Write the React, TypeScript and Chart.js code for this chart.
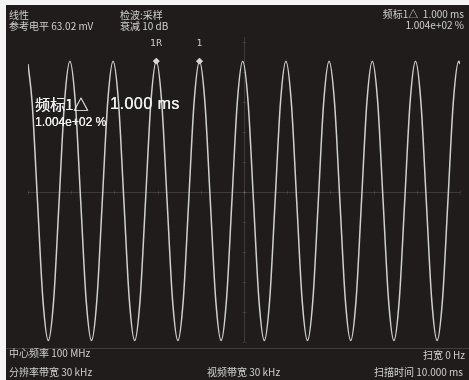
import React, { useEffect, useRef } from "react";
import { Chart, registerables } from "chart.js";

Chart.register(...registerables);

const TIME_MS = [
  0,
  0.095, 0.22, 0.345, 0.47, 0.595, 0.72, 0.845, 0.97,
  1.095, 1.22, 1.345, 1.47, 1.595, 1.72, 1.845, 1.97,
  2.095, 2.22, 2.345, 2.47, 2.595, 2.72, 2.845, 2.97,
  3.095, 3.22, 3.345, 3.47, 3.595, 3.72, 3.845, 3.97,
  4.095, 4.22, 4.345, 4.47, 4.595, 4.72, 4.845, 4.97,
  5.095, 5.22, 5.345, 5.47, 5.595, 5.72, 5.845, 5.97,
  6.095, 6.22, 6.345, 6.47, 6.595, 6.72, 6.845, 6.97,
  7.095, 7.22, 7.345, 7.47, 7.595, 7.72, 7.845, 7.97,
  8.095, 8.22, 8.345, 8.47, 8.595, 8.72, 8.845, 8.97,
  9.095, 9.22, 9.345, 9.47, 9.595, 9.72, 9.845, 9.97,
  10.0,
];
const LEVEL_MV = [
  58.4,
  50.4, 29.6, 8.9, 0.3, 8.9, 29.6, 50.4, 59.0,
  50.4, 29.6, 8.9, 0.3, 8.9, 29.6, 50.4, 59.0,
  50.4, 29.6, 8.9, 0.3, 8.9, 29.6, 50.4, 59.0,
  50.4, 29.6, 8.9, 0.3, 8.9, 29.6, 50.4, 59.0,
  50.4, 29.6, 8.9, 0.3, 8.9, 29.6, 50.4, 59.0,
  50.4, 29.6, 8.9, 0.3, 8.9, 29.6, 50.4, 59.0,
  50.4, 29.6, 8.9, 0.3, 8.9, 29.6, 50.4, 59.0,
  50.4, 29.6, 8.9, 0.3, 8.9, 29.6, 50.4, 59.0,
  50.4, 29.6, 8.9, 0.3, 8.9, 29.6, 50.4, 59.0,
  50.4, 29.6, 8.9, 0.3, 8.9, 29.6, 50.4, 59.0,
  58.4,
];
// Markers: reference 1R and marker 1
const MARKER_LABELS = ["1R", "1"];
const MARKER_TIME_MS = [2.97, 3.97];
const MARKER_LEVEL_MV = [59.0, 59.0];

const SWEEP_MS = 10;
const REF_LEVEL_MV = 63.02;

const TEXT = "#cfcfcf";
const CJK = '"Noto Sans CJK SC", "Noto Sans", sans-serif';

const graticule = {
  id: "graticule",
  beforeDatasetsDraw(chart: any) {
    const { ctx, chartArea, scales } = chart;
    const x = scales.x;
    const y = scales.y;
    ctx.save();
    ctx.strokeStyle = "rgba(200,200,200,0.18)";
    ctx.lineWidth = 1;
    const cx = Math.round(x.getPixelForValue(SWEEP_MS / 2)) + 0.5;
    ctx.beginPath();
    ctx.moveTo(cx, chartArea.top - 5);
    ctx.lineTo(cx, chartArea.bottom);
    const cy = Math.round(y.getPixelForValue(REF_LEVEL_MV / 2)) + 0.5;
    ctx.moveTo(chartArea.left, cy);
    ctx.lineTo(chartArea.right, cy);
    ctx.stroke();
    // faint small ticks on center lines
    ctx.strokeStyle = "rgba(200,200,200,0.14)";
    ctx.beginPath();
    for (let i = 0; i <= 10; i++) {
      const px = Math.round(x.getPixelForValue((SWEEP_MS * i) / 10)) + 0.5;
      ctx.moveTo(px, cy - 2);
      ctx.lineTo(px, cy + 2);
    }
    for (let i = 0; i <= 10; i++) {
      const py = Math.round(y.getPixelForValue((REF_LEVEL_MV * i) / 10)) + 0.5;
      ctx.moveTo(cx - 2, py);
      ctx.lineTo(cx + 2, py);
    }
    ctx.stroke();
    // lower separator line
    ctx.strokeStyle = "rgba(200,200,200,0.2)";
    ctx.beginPath();
    ctx.moveTo(0, chartArea.bottom + 6.5);
    ctx.lineTo(chart.width, chartArea.bottom + 6.5);
    ctx.stroke();
    ctx.restore();
  },
  afterDatasetsDraw(chart: any) {
    const { ctx, scales } = chart;
    ctx.save();
    ctx.fillStyle = TEXT;
    ctx.font = '9px "DejaVu Sans", sans-serif';
    ctx.textAlign = "center";
    ctx.textBaseline = "middle";
    MARKER_LABELS.forEach((lab, i) => {
      const px = scales.x.getPixelForValue(MARKER_TIME_MS[i]);
      const py = scales.y.getPixelForValue(MARKER_LEVEL_MV[i]);
      ctx.fillText(lab, px, py - 17);
    });
    ctx.restore();
  },
};

function ChartCanvas() {
  const ref = useRef<HTMLCanvasElement | null>(null);
  useEffect(() => {
    if (!ref.current) return;
    const trace = TIME_MS.map((t, i) => ({ x: t, y: LEVEL_MV[i] }));
    const markers = MARKER_TIME_MS.map((t, i) => ({ x: t, y: MARKER_LEVEL_MV[i] }));
    const chart = new Chart(ref.current, {
      type: "line",
      data: {
        datasets: [
          {
            data: trace,
            borderColor: "#d0d0d0",
            borderWidth: 1.5,
            pointRadius: 0,
            cubicInterpolationMode: "monotone",
            fill: false,
          },
          {
            data: markers,
            showLine: false,
            pointStyle: "rectRot",
            pointRadius: 3,
            pointBackgroundColor: "#dcdcdc",
            pointBorderColor: "#dcdcdc",
          },
        ],
      },
      options: {
        animation: false,
        responsive: false,
        maintainAspectRatio: false,
        layout: { padding: { left: 22, right: 9, top: 37, bottom: 38 } },
        plugins: { legend: { display: false }, tooltip: { enabled: false } },
        scales: {
          x: { type: "linear", min: 0, max: SWEEP_MS, display: false },
          y: { type: "linear", min: 0, max: REF_LEVEL_MV, display: false },
        },
      },
      plugins: [graticule],
    });
    return () => chart.destroy();
  }, []);
  return <canvas ref={ref} width={463} height={375} style={{ display: "block", width: 463, height: 375 }} />;
}

const t = (
  text: string,
  pos: React.CSSProperties,
  size = 10,
  extra: React.CSSProperties = {}
) => (
  <div
    style={{
      position: "absolute",
      whiteSpace: "pre",
      color: TEXT,
      fontFamily: CJK,
      fontSize: size,
      lineHeight: `${size + 2}px`,
      ...pos,
      ...extra,
    }}
  >
    {text}
  </div>
);

const BIG: React.CSSProperties = {
  color: "#f0f0f0",
  fontFamily: '"Liberation Sans", "Noto Sans CJK SC", sans-serif',
  textShadow: "0.3px 0 0 #f0f0f0",
};

export default function App() {
  return (
    <div style={{ position: "fixed", left: 0, top: 0, width: 469, height: 380, background: "#f4f4f4", overflow: "hidden" }}>
      <div style={{ position: "absolute", left: 6, top: 5, width: 463, height: 375, background: "#201c1b" }}>
        <ChartCanvas />
      </div>
      {t("线性", { left: 9, top: 9 })}
      {t("参考电平 63.02 mV", { left: 9, top: 20 })}
      {t("检波:采样", { left: 120, top: 9 })}
      {t("衰减 10 dB", { left: 120, top: 20 })}
      {t("频标1△  1.000 ms", { right: 5, top: 8 })}
      {t("1.004e+02 %", { right: 5, top: 19 })}
      {t("频标1△", { left: 35, top: 95 }, 15, { ...BIG, fontFamily: '"Noto Sans CJK SC", sans-serif' })}
      {t("1.000 ms", { left: 110, top: 95 }, 16, { ...BIG, letterSpacing: 0.5 })}
      {t("1.004e+02 %", { left: 35, top: 115 }, 12, BIG)}
      {t("中心频率 100 MHz", { left: 9, top: 347 })}
      {t("分辨率带宽 30 kHz", { left: 9, top: 366 })}
      {t("视频带宽 30 kHz", { left: 207, top: 366 })}
      {t("扫宽 0 Hz", { right: 4, top: 349 })}
      {t("扫描时间 10.000 ms", { right: 6, top: 366 })}
    </div>
  );
}
